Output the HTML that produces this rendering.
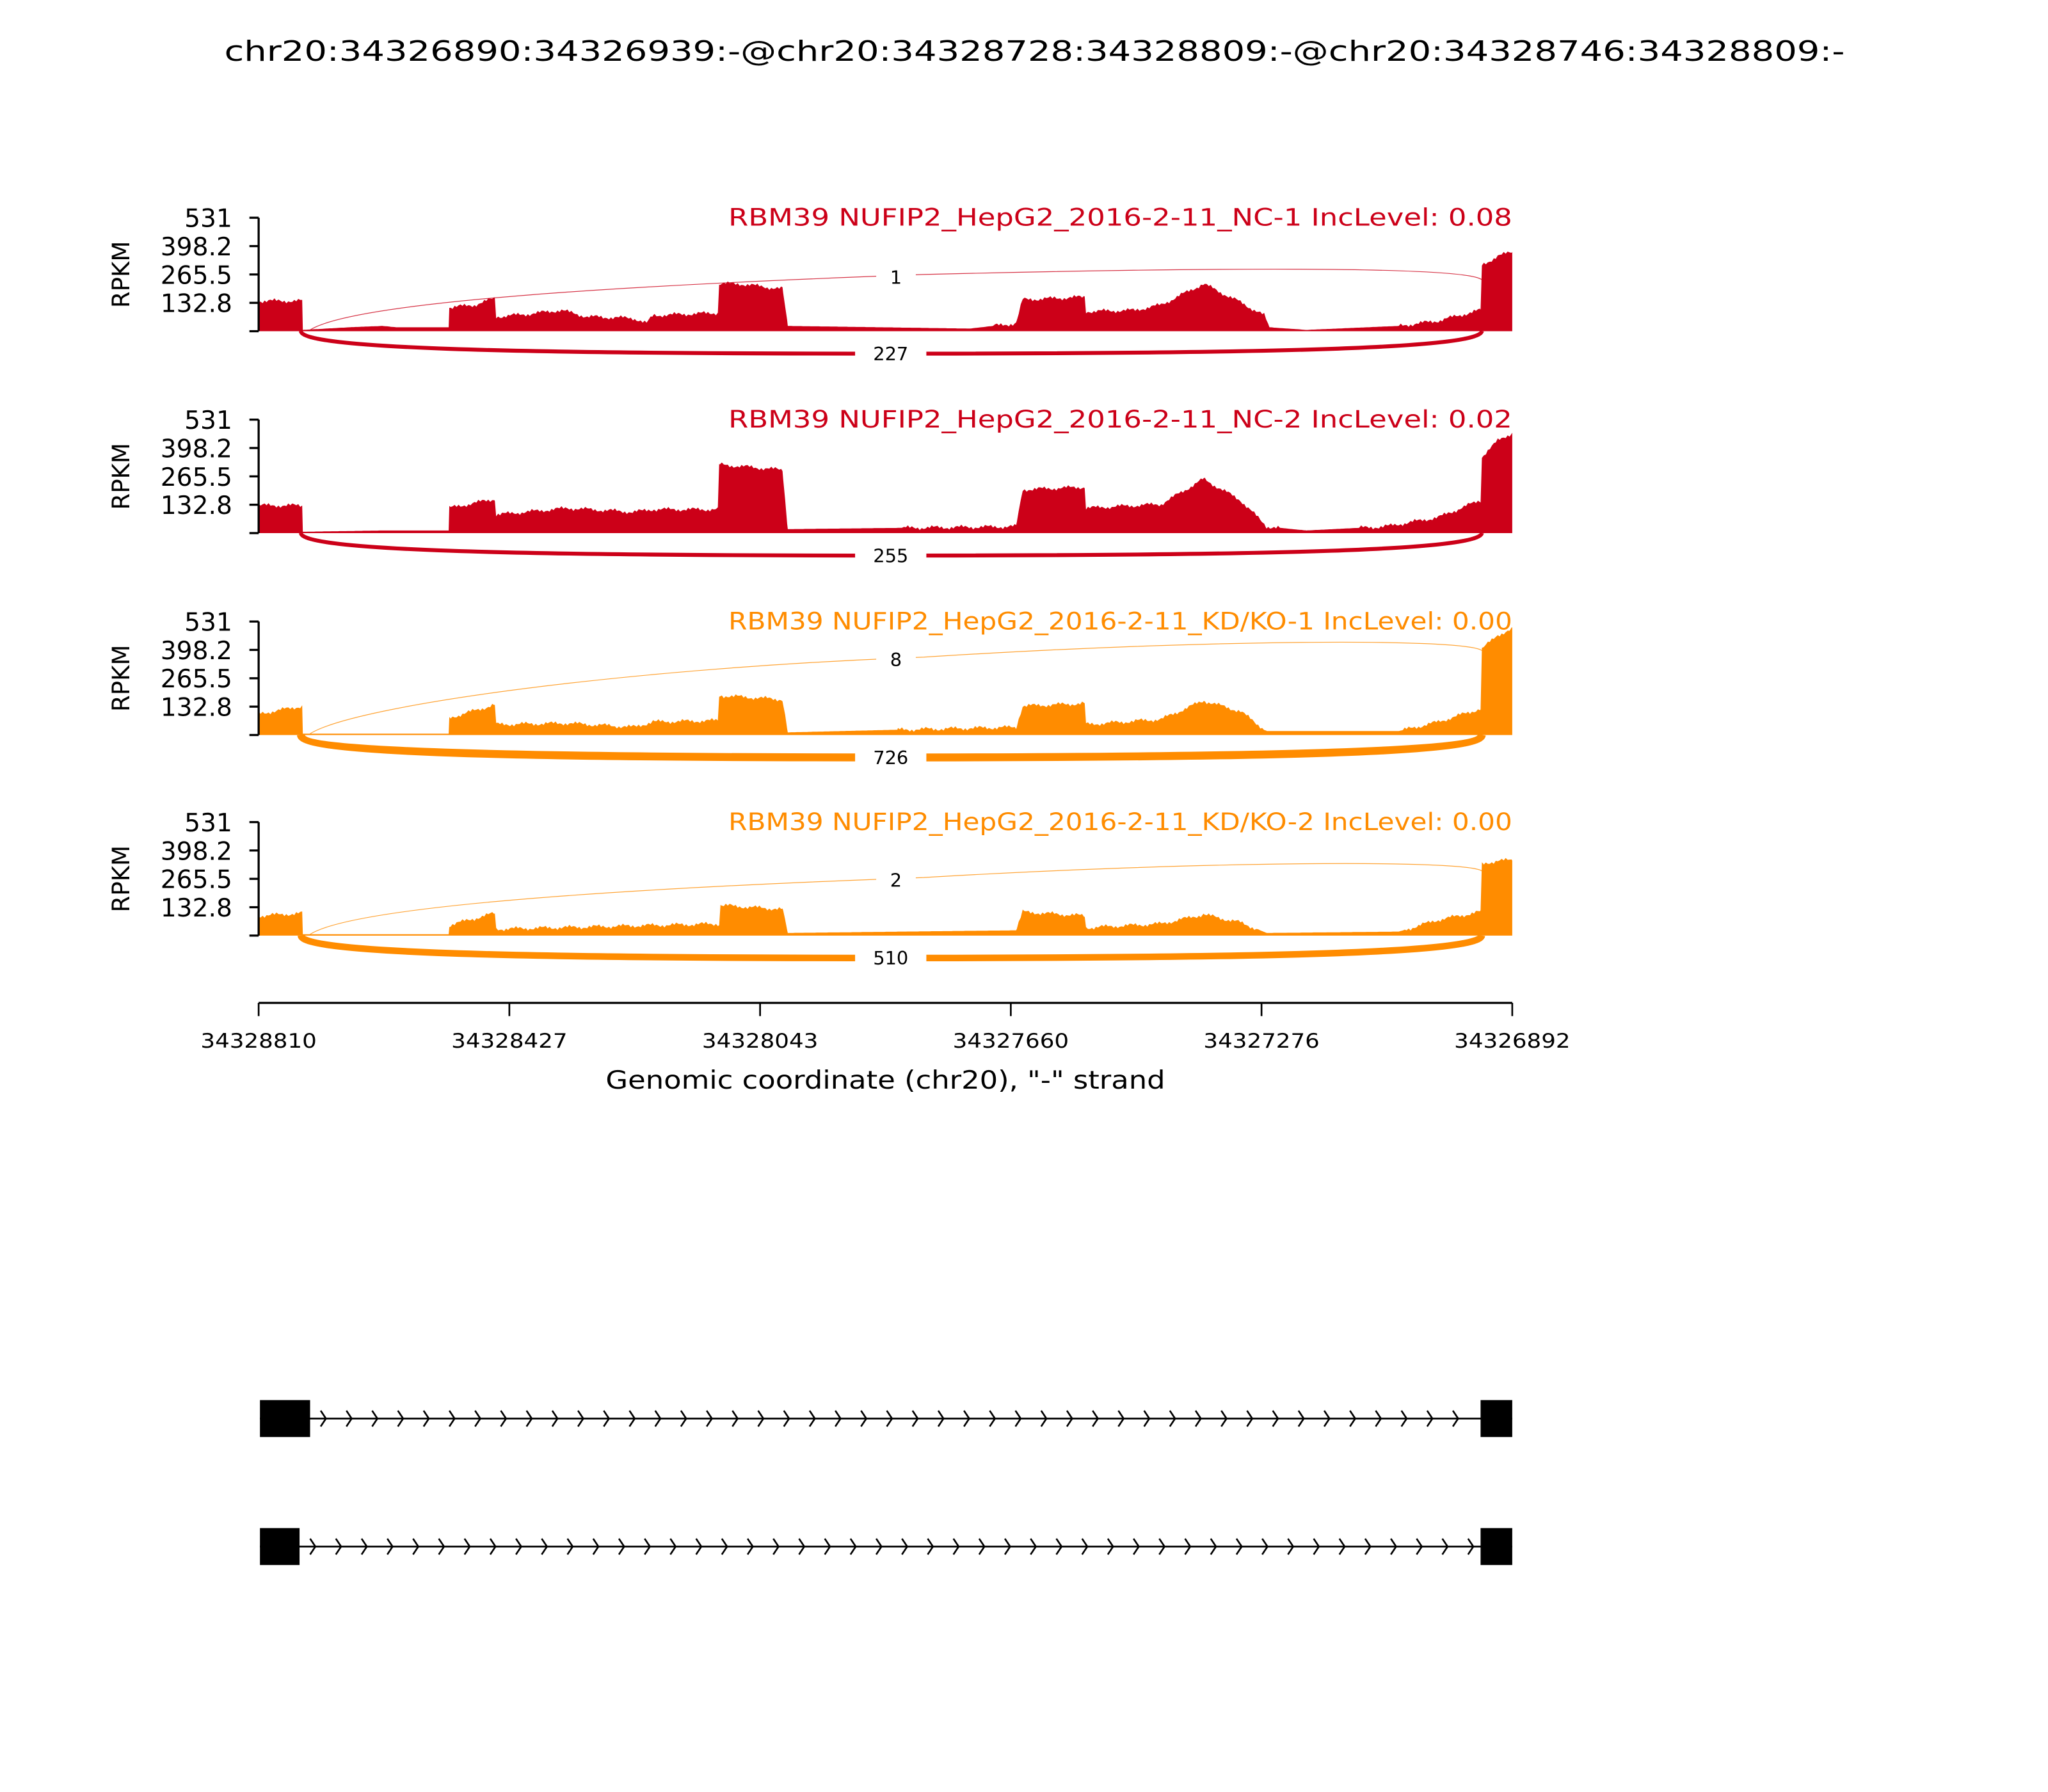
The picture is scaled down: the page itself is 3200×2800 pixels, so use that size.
<!DOCTYPE html>
<html><head><meta charset="utf-8">
<style>
html,body{margin:0;padding:0;background:#fff;}
svg{display:block;}
text{font-family:"DejaVu Sans","Liberation Sans",sans-serif;}
</style></head>
<body>
<svg id="s" width="3200" height="2800" viewBox="0 0 1552 1358" xmlns="http://www.w3.org/2000/svg">
<rect width="1552" height="1358" fill="#fff"/>
<text x="784" y="46" font-size="21" text-anchor="middle" textLength="1228" lengthAdjust="spacingAndGlyphs">chr20:34326890:34326939:-@chr20:34328728:34328809:-@chr20:34328746:34328809:-</text>
<g id="panels"></g>
<!-- x axis -->
<line x1="196" y1="760" x2="1146" y2="760" stroke="#000" stroke-width="1.6"/>
<g stroke="#000" stroke-width="1.3">
<line x1="196" y1="760" x2="196" y2="770"/><line x1="386" y1="760" x2="386" y2="770"/>
<line x1="576" y1="760" x2="576" y2="770"/><line x1="766" y1="760" x2="766" y2="770"/>
<line x1="956" y1="760" x2="956" y2="770"/><line x1="1146" y1="760" x2="1146" y2="770"/>
</g>
<g font-size="15" text-anchor="middle">
<text x="196" y="794" textLength="88" lengthAdjust="spacingAndGlyphs">34328810</text>
<text x="386" y="794" textLength="88" lengthAdjust="spacingAndGlyphs">34328427</text>
<text x="576" y="794" textLength="88" lengthAdjust="spacingAndGlyphs">34328043</text>
<text x="766" y="794" textLength="88" lengthAdjust="spacingAndGlyphs">34327660</text>
<text x="956" y="794" textLength="88" lengthAdjust="spacingAndGlyphs">34327276</text>
<text x="1146" y="794" textLength="88" lengthAdjust="spacingAndGlyphs">34326892</text>
</g>
<text x="671" y="825" font-size="19" text-anchor="middle" textLength="424" lengthAdjust="spacingAndGlyphs">Genomic coordinate (chr20), "-" strand</text>
<!-- gene models -->
<g id="genes"></g>
</svg>
<script>
(function(){
var NS="http://www.w3.org/2000/svg";
function el(n,a,p,t){var e=document.createElementNS(NS,n);for(var k in a)e.setAttribute(k,a[k]);if(t!==undefined)e.textContent=t;p.appendChild(e);return e;}
var G=document.getElementById('panels');
var RED="#cc0018",ORG="#ff8c00";
var panels=[
 {base:251,col:RED,title:"RBM39 NUFIP2_HepG2_2016-2-11_NC-1 IncLevel: 0.08",low:"227",lw:3,up:"1",upPts:[250,210,205,212],
  pts:[[196,23],[229,23],[229.5,1],[265,3],[290,4],[300,3],[340,3],[340.5,18],[360,20],[375,25],[376,11],[400,13],[425,16],[445,11],[480,10],[490,6],[495,12],[544,14],[545,36],[560,36],[593,32],[597,4],[735,2],[770,6],[775,24],[800,25],[822,26],[823,15],[860,16],[880,20],[912,36],[940,22],[958,12],[962,3],[990,1],[1060,4],[1090,8],[1110,13],[1122,16],[1123,50],[1135,57],[1146,60]]},
 {base:404,col:RED,title:"RBM39 NUFIP2_HepG2_2016-2-11_NC-2 IncLevel: 0.02",low:"255",lw:3,up:null,
  pts:[[196,21],[229,21],[229.5,1],[290,2],[340,2],[340.5,19],[375,26],[376,14],[430,19],[480,16],[495,18],[544,18],[545,52],[593,48],[597,3],[770,5],[775,33],[822,35],[823,19],[880,22],[912,41],[940,25],[960,5],[990,2],[1050,5],[1090,12],[1122,25],[1123,58],[1135,70],[1146,76]]},
 {base:557,col:ORG,title:"RBM39 NUFIP2_HepG2_2016-2-11_KD/KO-1 IncLevel: 0.00",low:"726",lw:6,up:"8",upPts:[556,500,487,493],
  pts:[[196,16],[229,22],[229.5,1],[340,1],[340.5,13],[375,23],[376,8],[430,9],[480,6],[495,10],[544,11],[545,30],[593,27],[597,2],[680,4],[770,6],[775,22],[822,24],[823,8],[880,12],[912,26],[940,18],[960,3],[1060,3],[1090,10],[1122,20],[1123,65],[1135,76],[1146,80]]},
 {base:709,col:ORG,title:"RBM39 NUFIP2_HepG2_2016-2-11_KD/KO-2 IncLevel: 0.00",low:"510",lw:5,up:"2",upPts:[708,667,655,660],
  pts:[[196,15],[229,17],[229.5,1],[340,1],[340.5,8],[375,17],[376,5],[545,9],[546,23],[593,20],[597,2],[770,4],[775,18],[822,15],[823,6],[880,9],[912,16],[940,10],[960,2],[1060,3],[1090,12],[1122,18],[1123,54],[1135,57],[1146,57]]}
];
function interp(pts,x){for(var i=0;i<pts.length-1;i++){if(x>=pts[i][0]&&x<=pts[i+1][0]){var a=pts[i],b=pts[i+1];var t=(b[0]-a[0])?(x-a[0])/(b[0]-a[0]):0;return a[1]+(b[1]-a[1])*t;}}return pts[pts.length-1][1];}
panels.forEach(function(p,pi){
 var b=p.base,top=b-86;
 // coverage
 var d="M196,"+b;
 var xs=[];for(var x=196;x<=1146;x+=1.5)xs.push(x);
 p.pts.forEach(function(q){xs.push(q[0]);});
 xs.sort(function(a,c){return a-c;});
 xs.forEach(function(x){var h=interp(p.pts,x);if(h>4)h+=Math.sin(x*1.7+pi)*0.9+Math.sin(x*0.31+pi*2)*1.0;if(h<0)h=0;d+=" L"+x.toFixed(1)+","+(b-h).toFixed(1);});
 d+=" L1146,"+b+" Z";
 el('path',{d:d,fill:p.col},G);
 // y axis
 el('line',{x1:196,y1:top,x2:196,y2:b,stroke:"#000","stroke-width":1.6},G);
 var lab=["531","398.2","265.5","132.8",""];
 for(var i=0;i<5;i++){var y=top+i*21.5;el('line',{x1:189,y1:y,x2:196,y2:y,stroke:"#000","stroke-width":1.6},G);
  if(lab[i])el('text',{x:176,y:y+7,"font-size":19,"text-anchor":"end"},G,lab[i]);}
 el('text',{x:0,y:0,"font-size":18,"text-anchor":"middle",transform:"translate(98,"+(b-43)+") rotate(-90)"},G,"RPKM");
 el('text',{x:1146,y:top+6,"font-size":18,"text-anchor":"end",fill:p.col,textLength:594,lengthAdjust:"spacingAndGlyphs"},G,p.title);
 // upper arc
 if(p.up){var u=p.upPts;
  el('path',{d:"M235,"+u[0]+" C270,"+(u[0]-22)+" 480,"+(u[1]+6)+" 700,"+(u[1]-2)+" C900,"+(u[2]-2)+" 1110,"+(u[2]-4)+" 1123,"+u[3],fill:"none",stroke:p.col,"stroke-width":0.6,opacity:0.8},G);
  el('rect',{x:664,y:u[1]-10,width:30,height:20,fill:"#fff"},G);
  el('text',{x:679,y:u[1]+5,"font-size":14,"text-anchor":"middle"},G,p.up);}
 // lower arc
 var by=b+17;
 el('path',{d:"M228,"+b+" C229,"+(by-4)+" 380,"+by+" 675,"+by+" C970,"+by+" 1121,"+(by-4)+" 1123,"+b,fill:"none",stroke:p.col,"stroke-width":p.lw},G);
 el('rect',{x:648,y:by-10,width:54,height:20,fill:"#fff"},G);
 el('text',{x:675,y:by+5,"font-size":14,"text-anchor":"middle"},G,p.low);
});
// genes
var GG=document.getElementById('genes');
[[1075,235],[1172,227]].forEach(function(r){
 var y=r[0];
 el('line',{x1:197,y1:y,x2:1146,y2:y,stroke:"#000","stroke-width":1.3},GG);
 el('rect',{x:197,y:y-14,width:r[1]-197,height:28,fill:"#000"},GG);
 el('rect',{x:1122,y:y-14,width:24,height:28,fill:"#000"},GG);
 var d="";
 for(var x=r[1]+12;x<1120;x+=19.5){d+="M"+(x-4).toFixed(1)+","+(y-6)+" L"+x.toFixed(1)+","+y+" L"+(x-4).toFixed(1)+","+(y+6)+" ";}
 el('path',{d:d,fill:"none",stroke:"#000","stroke-width":1.3},GG);
});
})();
</script>
</body></html>
